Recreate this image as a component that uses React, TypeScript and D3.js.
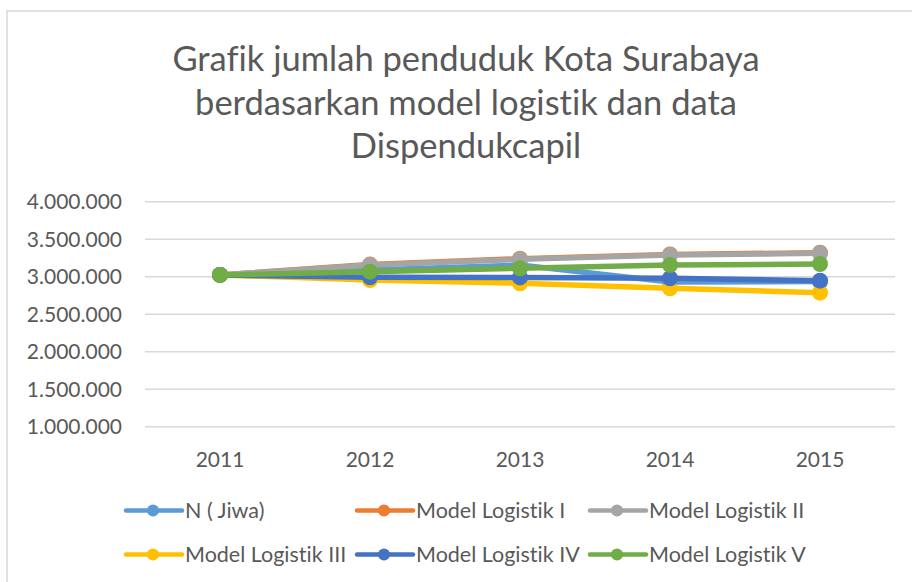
import React from "react";
import * as d3 from "d3";

const years = ["2011", "2012", "2013", "2014", "2015"];
const seriesNames = ["N ( Jiwa)", "Model Logistik I", "Model Logistik II", "Model Logistik III", "Model Logistik IV", "Model Logistik V"];
const seriesColors = ["#5B9BD5", "#ED7D31", "#A5A5A5", "#FFC000", "#4472C4", "#70AD47"];
const nJiwa = [3024000, 3090000, 3155000, 2930000, 2935000];
const modelI = [3024000, 3162000, 3240000, 3296000, 3320000];
const modelII = [3024000, 3156000, 3232000, 3289000, 3312000];
const modelIII = [3024000, 2956000, 2912000, 2845000, 2787000];
const modelIV = [3024000, 2992000, 2990000, 2979000, 2947000];
const modelV = [3024000, 3067000, 3112000, 3156000, 3169000];
const yTicks = [1000000, 1500000, 2000000, 2500000, 3000000, 3500000, 4000000];
const titleLines = ["Grafik jumlah penduduk Kota Surabaya", "berdasarkan model logistik dan data", "Dispendukcapil"];

const allSeries = [nJiwa, modelI, modelII, modelIII, modelIV, modelV];

const FONT = "Lato, 'Open Sans', sans-serif";
const TEXT = "#595959";
const noLig = { fontVariantLigatures: "none", fontFeatureSettings: "'liga' 0, 'clig' 0" } as React.CSSProperties;

export default function App() {
  const W = 912, H = 582;
  const left = 145, right = 895, top = 201.7, bottom = 426.7;
  const x = d3.scaleBand<string>().domain(years).range([left, right]);
  const y = d3.scaleLinear().domain([1000000, 4000000]).range([bottom, top]);
  const fmt = (v: number) => d3.format(",")(v).replace(/,/g, ".");
  const line = d3.line<number>()
    .x((_, i) => (x(years[i]) as number) + x.bandwidth() / 2)
    .y((d) => y(d));

  const legendRows = [
    [{ i: 0, x: 126 }, { i: 1, x: 357 }, { i: 2, x: 590 }],
    [{ i: 3, x: 126 }, { i: 4, x: 357 }, { i: 5, x: 590 }],
  ];
  const legendY = [510.5, 554.5];

  return (
    <svg width={W} height={H} style={{ position: "absolute", left: 0, top: 0, background: "#fff", ...noLig }}>
      <rect x={0} y={0} width={W} height={H} fill="#fff" />
      <rect x={7} y={11} width={930} height={620} fill="none" stroke="#D9D9D9" strokeWidth={1.5} />
      {titleLines.map((t, i) => (
        <text key={i} x={466} y={71 + i * 43.5} textAnchor="middle" fontFamily={FONT} fontSize={34.5} fill={TEXT} style={noLig}>
          {t}
        </text>
      ))}
      {yTicks.map((v) => (
        <g key={v}>
          <line x1={left} x2={right} y1={y(v)} y2={y(v)} stroke="#D9D9D9" strokeWidth={1.5} />
          <text x={122} y={y(v)} dy="0.36em" textAnchor="end" fontFamily={FONT} fontSize={21} fill={TEXT}>
            {fmt(v)}
          </text>
        </g>
      ))}
      {years.map((yr) => (
        <text key={yr} x={(x(yr) as number) + x.bandwidth() / 2} y={467} textAnchor="middle" fontFamily={FONT} fontSize={21} fill={TEXT}>
          {yr}
        </text>
      ))}
      {allSeries.map((s, si) => (
        <g key={si}>
          <path d={line(s) || ""} fill="none" stroke={seriesColors[si]} strokeWidth={5.5} strokeLinejoin="round" strokeLinecap="round" />
          {s.map((v, i) => (
            <circle key={i} cx={(x(years[i]) as number) + x.bandwidth() / 2} cy={y(v)} r={8} fill={seriesColors[si]} />
          ))}
        </g>
      ))}
      {legendRows.map((row, ri) =>
        row.map(({ i, x: lx }) => (
          <g key={`${ri}-${i}`}>
            <line x1={lx} x2={lx + 56} y1={legendY[ri]} y2={legendY[ri]} stroke={seriesColors[i]} strokeWidth={4.5} strokeLinecap="round" />
            <circle cx={lx + 27} cy={legendY[ri]} r={6} fill={seriesColors[i]} />
            <text x={lx + 59} y={legendY[ri]} dy="0.36em" fontFamily={FONT} fontSize={21.5} fill={TEXT} style={noLig}>
              {seriesNames[i]}
            </text>
          </g>
        ))
      )}
    </svg>
  );
}
